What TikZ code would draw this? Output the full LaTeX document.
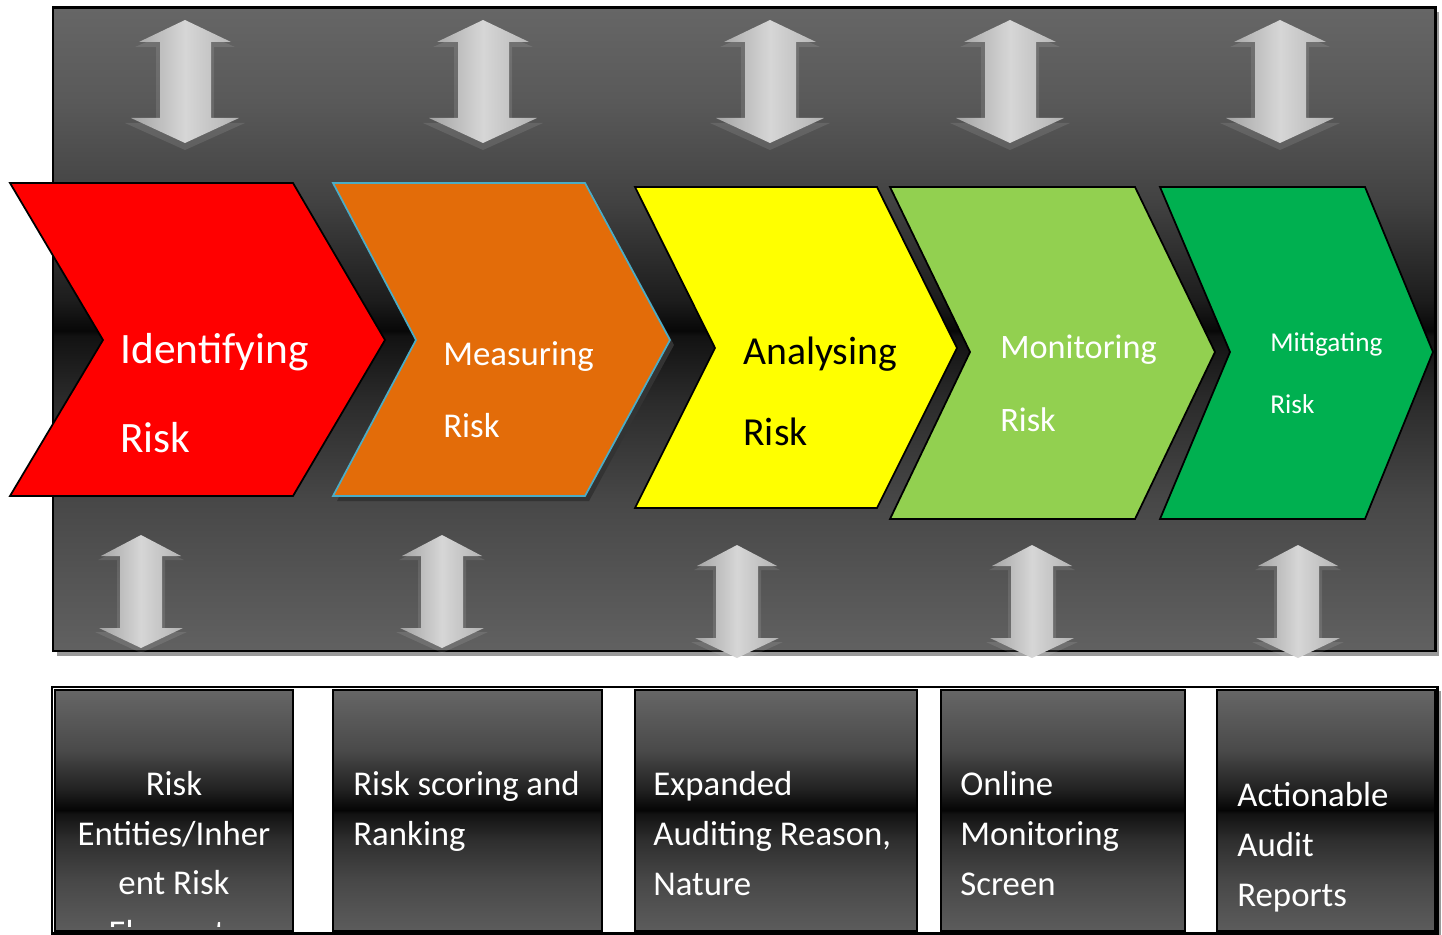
\documentclass[tikz,border=0pt]{standalone}
\usepackage{fontspec}
\setmainfont{Carlito}

\definecolor{riskred}{RGB}{255,0,0}
\definecolor{riskorange}{RGB}{227,108,9}
\definecolor{orangeline}{RGB}{75,172,198}
\definecolor{riskyellow}{RGB}{255,255,0}
\definecolor{risklime}{RGB}{146,208,80}
\definecolor{riskgreen}{RGB}{0,176,80}

% metal look of the big panel and of the boxes
\pgfdeclareverticalshading{panelshade}{100bp}{color(0bp)=(white!38!black); color(25bp)=(white!38!black); color(36.7bp)=(white!28!black); color(44.4bp)=(white!17!black); color(49.5bp)=(white!7!black); color(49.9bp)=(white!3!black); color(52.2bp)=(white!11!black); color(60bp)=(white!26!black); color(67.8bp)=(white!35!black); color(75bp)=(white!40!black); color(100bp)=(white!40!black)}
\pgfdeclareverticalshading{boxshade}{100bp}{color(0bp)=(white!36!black); color(25bp)=(white!36!black); color(35.6bp)=(white!28!black); color(43.9bp)=(white!18!black); color(49.3bp)=(white!7!black); color(50.1bp)=(white!2!black); color(54.3bp)=(white!13!black); color(62.6bp)=(white!29!black); color(75bp)=(white!40!black); color(100bp)=(white!40!black)}

\begin{document}
\begin{tikzpicture}[x=0.02cm, y=-0.02cm,
    chevron/.style={draw=black, line width=1pt},
    updown/.style={left color=white!64!black, right color=white!70!black, middle color=white!84!black},
    steplabel/.style={inner sep=0pt, anchor=base west, align=left},
    boxlabel/.style={inner sep=0pt, anchor=base west, align=left, text=white, font=\fontsize{19.8}{28.2}\selectfont},
    stepbox/.style={shading=boxshade, draw=black, line width=0.8pt}]
  \useasboundingbox (0,0) rectangle (1442,935);

  % panel
  \fill[white!60!black] (57,12) rectangle (1439,656); % shadow
  \draw[shading=panelshade, line width=1.7pt] (53,8) rectangle (1435,651);

  % arrows above the steps
  \foreach \ax in {185,483,770,1010,1280} {
    \begin{scope}[shift={(\ax,20)}]
      \fill[white, fill opacity=0.1] (0,5) -- (50,27) -- (29,27) -- (29,103) -- (60,103) -- (0,130) -- (-60,103) -- (-29,103) -- (-29,27) -- (-50,27) -- cycle; % back face
      \shade[updown] (0,0) -- (46,22) -- (26,22) -- (26,98) -- (54,98) -- (0,123) -- (-54,98) -- (-25,98) -- (-25,22) -- (-46,22) -- cycle;
    \end{scope}
  }

  % the five steps
  \draw[chevron, fill=riskred] (10,183) -- (293,183) -- (385,340) -- (293,496) -- (10,496) -- (103,340) -- cycle; % identifying
  \fill[black!80] (337,188) -- (589,188) -- (674,345) -- (589,501) -- (337,501) -- (420,345) -- cycle; % shadow
  \draw[draw=orangeline, line width=1pt, fill=riskorange] (333,183) -- (585,183) -- (670,340) -- (585,496) -- (333,496) -- (416,340) -- cycle; % measuring
  \draw[chevron, fill=riskyellow] (635,187) -- (877,187) -- (957,348) -- (877,508) -- (635,508) -- (715,348) -- cycle; % analysing
  \draw[chevron, fill=risklime] (890,187) -- (1135,187) -- (1215,352) -- (1135,519) -- (890,519) -- (970,352) -- cycle; % monitoring
  \draw[chevron, fill=riskgreen] (1160,187) -- (1365,187) -- (1433,352) -- (1365,519) -- (1160,519) -- (1230,352) -- cycle; % mitigating

  % labels sit on the baseline of their last line
  \node[steplabel, text=white, font=\fontsize{24.7}{50.6}\selectfont] (idtxt) at (120,452) {Identifying\\Risk};
  \node[steplabel, text=white, font=\fontsize{19.8}{41.5}\selectfont] (meastxt) at (443,438) {Measuring\\Risk};
  \node[steplabel, text=black, font=\fontsize{22.6}{46}\selectfont] (anatxt) at (743,445) {Analysing\\Risk};
  \node[steplabel, text=white, font=\fontsize{19.5}{41.5}\selectfont] (montxt) at (1000,431) {Monitoring\\Risk};
  \node[steplabel, text=white, font=\fontsize{15.5}{35.3}\selectfont] (mittxt) at (1270,414) {Mitigating\\Risk};

  % arrows below the steps
  \foreach \ax/\ay in {141/535,442/535,737/545,1032/545,1298/545} {
    \begin{scope}[shift={(\ax,\ay)}]
      \fill[white, fill opacity=0.1] (0,4) -- (43,25) -- (24,25) -- (24,97) -- (46,97) -- (0,118) -- (-46,97) -- (-24,97) -- (-24,25) -- (-43,25) -- cycle; % back face
      \shade[updown] (0,0) -- (40,21) -- (21,21) -- (21,93) -- (42,93) -- (0,113) -- (-42,93) -- (-21,93) -- (-21,21) -- (-40,21) -- cycle;
    \end{scope}
  }

  % boxes at the bottom
  \fill[white!60!black] (56,691) rectangle (1441,937); % shadow
  \draw[fill=white, line width=1.7pt] (52,687) rectangle (1437,933);
  \draw[stepbox] (55,690) rectangle (293,931);
  \draw[stepbox] (333,690) rectangle (602,931);
  \draw[stepbox] (635,690) rectangle (917,931);
  \draw[stepbox] (941,690) rectangle (1185,931);
  \draw[stepbox] (1217,690) rectangle (1435,931);

  \begin{scope}
    \clip (55,690) rectangle (293,926);
    \node[boxlabel, anchor=base, align=center] (entlbl) at (174,944.5) {Risk\\Entities/Inher\\ent Risk\\Elements};
  \end{scope}
  \node[boxlabel] (scorelbl) at (353,845.5) {Risk scoring and\\Ranking};
  \node[boxlabel] (reasonlbl) at (653,895) {Expanded\\Auditing Reason,\\Nature};
  \node[boxlabel] (screenlbl) at (960,895) {Online\\Monitoring\\Screen};
  \node[boxlabel] (reportlbl) at (1237,906) {Actionable\\Audit\\Reports};
\end{tikzpicture}
\end{document}
